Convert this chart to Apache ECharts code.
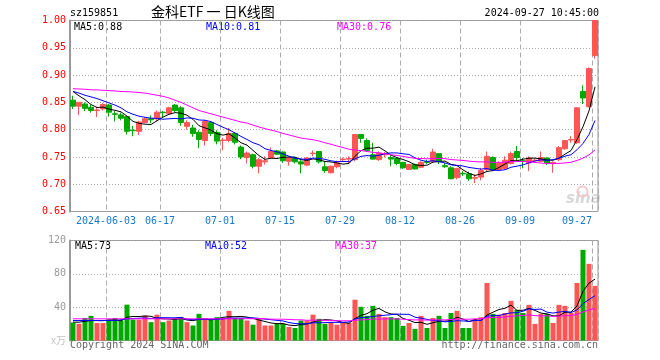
<!DOCTYPE html>
<html>
<head>
<meta charset="utf-8">
<script src="https://cdn.jsdelivr.net/npm/echarts@6/dist/echarts.min.js"></script>
<style>html,body{margin:0;padding:0;background:#fff;}#c{width:660px;height:360px;}</style>
</head>
<body>
<div id="c"></div>
<script>
const dates = [
'2024-05-24','2024-05-27','2024-05-28','2024-05-29','2024-05-30','2024-05-31',
'2024-06-03','2024-06-04','2024-06-05','2024-06-06','2024-06-07',
'2024-06-11','2024-06-12','2024-06-13','2024-06-14',
'2024-06-17','2024-06-18','2024-06-19','2024-06-20','2024-06-21',
'2024-06-24','2024-06-25','2024-06-26','2024-06-27','2024-06-28',
'2024-07-01','2024-07-02','2024-07-03','2024-07-04','2024-07-05',
'2024-07-08','2024-07-09','2024-07-10','2024-07-11','2024-07-12',
'2024-07-15','2024-07-16','2024-07-17','2024-07-18','2024-07-19',
'2024-07-22','2024-07-23','2024-07-24','2024-07-25','2024-07-26',
'2024-07-29','2024-07-30','2024-07-31','2024-08-01','2024-08-02',
'2024-08-05','2024-08-06','2024-08-07','2024-08-08','2024-08-09',
'2024-08-12','2024-08-13','2024-08-14','2024-08-15','2024-08-16',
'2024-08-19','2024-08-20','2024-08-21','2024-08-22','2024-08-23',
'2024-08-26','2024-08-27','2024-08-28','2024-08-29','2024-08-30',
'2024-09-02','2024-09-03','2024-09-04','2024-09-05','2024-09-06',
'2024-09-09','2024-09-10','2024-09-11','2024-09-12','2024-09-13',
'2024-09-18','2024-09-19','2024-09-20',
'2024-09-23','2024-09-24','2024-09-25','2024-09-26','2024-09-27'];

const opens = [
.854,.843,.847,.841,.835,.838,.845,.829,.827,.824,
.799,.797,.813,.820,.820,.832,.829,.845,.840,.806,
.803,.795,.780,.813,.795,.780,.780,.793,.768,.749,
.754,.733,.741,.749,.761,.759,.742,.748,.741,.735,
.756,.760,.732,.721,.732,.745,.746,.745,.791,.780,
.754,.745,.754,.749,.747,.740,.727,.736,.731,.741,
.741,.756,.734,.730,.712,.720,.719,.711,.713,.727,
.749,.727,.729,.738,.760,.743,.739,.743,.742,.748,
.738,.745,.765,.781,.776,.870,.842,.936];
const closes = [
.843,.850,.839,.835,.836,.846,.832,.828,.821,.797,
.798,.814,.820,.818,.832,.831,.840,.835,.813,.813,
.793,.782,.815,.793,.779,.781,.793,.777,.750,.757,
.733,.745,.743,.760,.755,.743,.749,.741,.737,.748,
.757,.741,.725,.733,.739,.746,.747,.791,.784,.762,
.746,.757,.756,.746,.738,.730,.736,.728,.740,.740,
.759,.741,.732,.710,.729,.719,.710,.712,.725,.751,
.727,.738,.744,.756,.749,.742,.748,.744,.749,.739,
.740,.767,.780,.782,.840,.858,.912,1.000];
const lows = [
.838,.827,.834,.831,.823,.835,.824,.815,.817,.791,
.788,.790,.812,.812,.815,.823,.827,.832,.807,.800,
.787,.766,.771,.788,.773,.762,.777,.773,.746,.738,
.729,.720,.736,.748,.754,.739,.734,.738,.720,.733,
.751,.738,.721,.720,.729,.742,.737,.742,.776,.760,
.745,.743,.749,.733,.735,.728,.726,.727,.730,.737,
.739,.737,.730,.709,.709,.715,.706,.702,.707,.724,
.724,.724,.727,.736,.742,.729,.724,.739,.741,.735,
.721,.742,.763,.776,.774,.847,.841,.930];
const highs = [
.862,.850,.850,.846,.842,.849,.847,.834,.831,.824,
.807,.816,.823,.826,.835,.834,.842,.847,.843,.817,
.809,.799,.818,.815,.799,.785,.803,.795,.771,.760,
.756,.748,.751,.767,.763,.760,.751,.750,.744,.750,
.762,.760,.742,.734,.743,.749,.751,.792,.792,.784,
.776,.760,.759,.753,.748,.741,.737,.738,.742,.745,
.765,.757,.739,.733,.730,.724,.723,.718,.730,.760,
.751,.742,.751,.760,.770,.748,.751,.747,.760,.749,
.742,.770,.781,.788,.841,.881,.914,1.000];

const volumes = [
21.6,20,27,29.6,21,21,25,27,24,43,
25,25,30,22,31,22,24,27,28,22,
18,32,27,25,28,27,35.6,27,27,24,
19,26,18,18,20,20,16.4,15,24,24,
31,26,20,22,19,21,21,49,40.4,29.6,
41.6,32,28,28,27,17.6,21,14,29.6,15,
27,29.6,15,33,35.6,15,15,26,28,69,
32,31,33,47.6,36.8,33,42.8,20,32,32,
21,42.8,41.6,33,69,108.8,92,65.6];

// moving-average values before enough bars are visible
const ma5Head = [.870,.862,.855,.846];
const ma10Head = [.870,.867,.863,.860,.857,.853,.849,.845,.840];
const ma30Head = [.875,.8745,.874,.873,.8728,.8722,.8715,.8708,.870,.8695,
  .869,.868,.867,.865,.863,.861,.858,.854,.850,.845,
  .840,.835,.832,.829,.826,.823,.820,.817,.814];
const volMa5Head = [22,22,23,24];
const volMa10Head = [24,24,24,24,24,24,24,24,25];
const volMa30Head = [26,26,26,26,26,26,26,26,26,26,26,26,26,26,26,26,26,26,26,26,26,26,26,26,26,26,26,26,26];

const tickDates = ['2024-06-03','2024-06-17','2024-07-01','2024-07-15','2024-07-29','2024-08-12','2024-08-26','2024-09-09','2024-09-27'];
const tickLabels = ['2024-06-03','06-17','07-01','07-15','07-29','08-12','08-26','09-09','09-27'];
const priceTicks = [0.65, 1.00, 0.05];
const volTicks = [0, 120, 40];
const priceMaLabels = ['MA5:0.88','MA10:0.81','MA30:0.76'];
const volMaLabels = ['MA5:73','MA10:52','MA30:37'];
const headerCode = 'sz159851';
const headerTitle = '金科ETF 一 日K线图';
const headerTime = '2024-09-27 10:45:00';

function movingAvg(vals, n, head) {
  return vals.map((v, i) => {
    if (i < n - 1) return head[i];
    let s = 0;
    for (let k = i - n + 1; k <= i; k++) s += vals[k];
    return s / n;
  });
}

const RED = '#ff5555', GREEN = '#00a800';
const MONO = '"DejaVu Sans Mono", monospace';
const tickIdx = tickDates.map(d => dates.indexOf(d));
const lastTick = tickIdx[tickIdx.length - 1];

const kData = dates.map((d, i) => [opens[i], closes[i], lows[i], highs[i]]);
const volData = volumes.map((v, i) => ({
  value: v,
  itemStyle: { color: closes[i] >= opens[i] ? RED : GREEN }
}));

const chart = echarts.init(document.getElementById('c'), null, { renderer: 'canvas' });

const xBase = {
  type: 'category',
  data: dates,
  boundaryGap: true,
  axisLine: { show: false },
  axisTick: { show: false },
  splitLine: {
    show: true,
    interval: (idx) => tickIdx.includes(idx),
    lineStyle: { color: '#aaa', type: [5, 3], width: 1 }
  }
};

const option = {
  animation: false,
  backgroundColor: '#fff',
  grid: [
    { left: 70, top: 20.5, width: 528, height: 191, show: true, borderColor: '#999', borderWidth: 1 },
    { left: 70, top: 240.5, width: 528, height: 100, show: true, borderColor: '#999', borderWidth: 1 }
  ],
  xAxis: [
    Object.assign({}, xBase, {
      gridIndex: 0,
      axisLabel: {
        show: true,
        interval: (idx) => tickIdx.includes(idx),
        margin: 5,
        formatter: (val, idx) => {
          const k = tickDates.indexOf(val);
          if (k < 0) return '';
          return (dates.indexOf(val) === lastTick ? '{b|' : '{a|') + tickLabels[k] + '}';
        },
        rich: {
          a: { color: '#1a78c8', fontFamily: MONO, fontSize: 10, padding: [0, 6, 0, 0] },
          b: { color: '#1a78c8', fontFamily: MONO, fontSize: 10, padding: [0, 36, 0, 0] }
        }
      }
    }),
    Object.assign({}, xBase, { gridIndex: 1, axisLabel: { show: false } })
  ],
  yAxis: [
    {
      gridIndex: 0, type: 'value', min: priceTicks[0], max: priceTicks[1], interval: priceTicks[2],
      axisLine: { show: true, lineStyle: { color: '#999', width: 2 } },
      axisTick: { show: false },
      axisLabel: { color: '#ff0000', fontFamily: MONO, fontSize: 10, margin: 4, formatter: v => v.toFixed(2) },
      splitLine: { show: true, lineStyle: { color: '#aaa', type: [1, 2] } }
    },
    {
      gridIndex: 1, type: 'value', min: volTicks[0], max: volTicks[1], interval: volTicks[2],
      axisLine: { show: true, lineStyle: { color: '#999', width: 2 } },
      axisTick: { show: false },
      axisLabel: {
        color: '#999', fontFamily: MONO, fontSize: 10, margin: 4,
        formatter: v => v === 0 ? '{u|x万}' : String(v),
        rich: { u: { color: '#c4c4c4', fontFamily: '"Noto Sans CJK SC", sans-serif', fontSize: 10 } }
      },
      splitLine: { show: true, lineStyle: { color: '#aaa', type: [1, 2] } }
    }
  ],
  series: [
    {
      type: 'candlestick', xAxisIndex: 0, yAxisIndex: 0, data: kData, barWidth: 5,
      itemStyle: { color: RED, color0: GREEN, borderColor: RED, borderColor0: GREEN, borderWidth: 1 }
    },
    { type: 'line', xAxisIndex: 0, yAxisIndex: 0, data: movingAvg(closes, 5, ma5Head), showSymbol: false, symbol: 'none', lineStyle: { color: '#000', width: 1 } },
    { type: 'line', xAxisIndex: 0, yAxisIndex: 0, data: movingAvg(closes, 10, ma10Head), showSymbol: false, symbol: 'none', lineStyle: { color: '#0000ff', width: 1 } },
    { type: 'line', xAxisIndex: 0, yAxisIndex: 0, data: movingAvg(closes, 30, ma30Head), showSymbol: false, symbol: 'none', lineStyle: { color: '#ff00ff', width: 1 } },
    { type: 'bar', xAxisIndex: 1, yAxisIndex: 1, data: volData, barWidth: 5 },
    { type: 'line', xAxisIndex: 1, yAxisIndex: 1, data: movingAvg(volumes, 5, volMa5Head), showSymbol: false, symbol: 'none', lineStyle: { color: '#000', width: 1 } },
    { type: 'line', xAxisIndex: 1, yAxisIndex: 1, data: movingAvg(volumes, 10, volMa10Head), showSymbol: false, symbol: 'none', lineStyle: { color: '#0000ff', width: 1 } },
    { type: 'line', xAxisIndex: 1, yAxisIndex: 1, data: movingAvg(volumes, 30, volMa30Head), showSymbol: false, symbol: 'none', lineStyle: { color: '#ff00ff', width: 1 } }
  ],
  graphic: [
    { type: 'text', left: 70, top: 8, style: { text: headerCode, fill: '#000', font: '10px ' + MONO } },
    { type: 'text', left: 151, top: 5, style: { text: headerTitle, fill: '#000', font: '14px "Noto Sans CJK SC", sans-serif' } },
    { type: 'text', right: 61, top: 8, style: { text: headerTime, fill: '#000', font: '10px ' + MONO } },
    { type: 'text', left: 74, top: 22, style: { text: priceMaLabels[0], fill: '#000', font: '10px ' + MONO } },
    { type: 'text', left: 206, top: 22, style: { text: priceMaLabels[1], fill: '#0000ff', font: '10px ' + MONO } },
    { type: 'text', left: 337, top: 22, style: { text: priceMaLabels[2], fill: '#ff00ff', font: '10px ' + MONO } },
    { type: 'text', left: 75, top: 241, style: { text: volMaLabels[0], fill: '#000', font: '10px ' + MONO } },
    { type: 'text', left: 205, top: 241, style: { text: volMaLabels[1], fill: '#0000ff', font: '10px ' + MONO } },
    { type: 'text', left: 335, top: 241, style: { text: volMaLabels[2], fill: '#ff00ff', font: '10px ' + MONO } },
    { type: 'text', left: 70, top: 340, style: { text: 'Copyright 2024 SINA.COM', fill: '#666', font: '10px ' + MONO } },
    { type: 'text', right: 62, top: 340, style: { text: 'http://finance.sina.com.cn', fill: '#666', font: '10px ' + MONO } },
    { type: 'text', left: 566, top: 192, z: -1, style: { text: 'sina', fill: '#d8d8d8', font: 'italic bold 15px "DejaVu Sans", sans-serif' } },
    { type: 'circle', left: 575, top: 184, z: -1, shape: { r: 5 }, style: { fill: 'none', stroke: '#f4c8c8', lineWidth: 2 } }
  ]
};
chart.setOption(option);
</script>
</body>
</html>
